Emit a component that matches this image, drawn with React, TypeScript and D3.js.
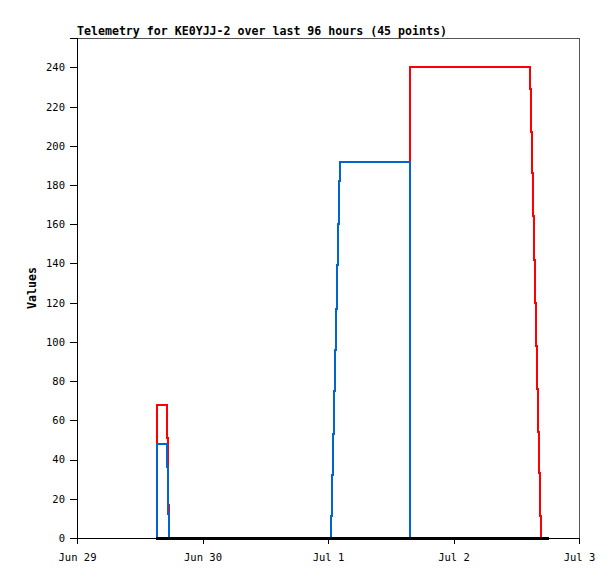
import { useEffect, useRef } from 'react';
import * as d3 from 'd3';

// hours since Jun 29 00:00 (UTC) for each telemetry packet
const hours = [
  15.1, 15.36, 17.15, 17.4, 17.59,
  48.52, 48.71, 48.9, 49.09, 49.28, 49.47, 49.66, 49.86, 50.05, 50.24,
  63.68,
  86.63, 86.82, 87.01, 87.26, 87.45, 87.64, 87.84, 88.03, 88.22, 88.41, 88.6, 88.79,
  90.26,
];

const redValues = [
  0, 68, 51, 17, 0,
  0, 0, 0, 0, 0, 0, 0, 0, 0, 0,
  240,
  229, 207, 186, 164, 142, 120, 98, 76, 54, 33, 11, 0,
  0,
];

const blueValues = [
  0, 48, 36, 12, 0,
  11, 32, 53, 75, 96, 117, 139, 160, 182, 192,
  0,
  0, 0, 0, 0, 0, 0, 0, 0, 0, 0, 0, 0,
  0,
];

const blackValues = [
  0, 0, 0, 0, 0,
  0, 0, 0, 0, 0, 0, 0, 0, 0, 0,
  0,
  0, 0, 0, 0, 0, 0, 0, 0, 0, 0, 0, 0,
  0,
];

const dayLabels = ['Jun 29', 'Jun 30', 'Jul 1', 'Jul 2', 'Jul 3'];
const yTicks = [0, 20, 40, 60, 80, 100, 120, 140, 160, 180, 200, 220, 240];

const startDay = new Date(Date.UTC(2024, 5, 29));
const endDay = new Date(Date.UTC(2024, 6, 3));

export default function App() {
  const svgRef = useRef<SVGSVGElement>(null);

  useEffect(() => {
    document.body.style.margin = '0';
    if (!svgRef.current) return;

    const svg = d3.select(svgRef.current);
    svg.selectAll('*').remove();

    const width = 615;
    const height = 579;
    const margin = { top: 38, right: 36, bottom: 41, left: 77 };
    const font = '"DejaVu Sans Mono", "Liberation Mono", monospace';

    const x = d3.scaleUtc()
      .domain([startDay, endDay])
      .range([margin.left, width - margin.right]);

    const y = d3.scaleLinear()
      .domain([0, 255])
      .range([height - margin.bottom, margin.top]);

    const times = hours.map(h => new Date(startDay.getTime() + h * 3600 * 1000));

    svg.append('rect')
      .attr('width', width)
      .attr('height', height)
      .attr('fill', '#fff');

    // frame (top/right)
    svg.append('rect')
      .attr('x', margin.left)
      .attr('y', margin.top)
      .attr('width', width - margin.left - margin.right)
      .attr('height', height - margin.top - margin.bottom)
      .attr('fill', 'none')
      .attr('stroke', '#555')
      .attr('stroke-width', 1)
      .attr('shape-rendering', 'crispEdges');

    const line = d3.line<number>()
      .x((_, i) => x(times[i]))
      .y(d => y(d))
      .curve(d3.curveStepAfter);

    const series = [
      { values: redValues, color: '#ff0000', w: 2 },
      { values: blueValues, color: '#0066cc', w: 2 },
      { values: blackValues, color: '#000000', w: 3 },
    ];

    series.forEach(s => {
      svg.append('path')
        .datum(s.values)
        .attr('fill', 'none')
        .attr('stroke', s.color)
        .attr('stroke-width', s.w)
        .attr('shape-rendering', 'crispEdges')
        .attr('d', line);
    });

    // y axis
    const yAxis = svg.append('g')
      .attr('transform', `translate(${margin.left},0)`)
      .call(d3.axisLeft(y).tickValues(yTicks).tickSize(7).tickPadding(5));
    yAxis.select('.domain').attr('stroke', '#000').attr('shape-rendering', 'crispEdges');
    yAxis.selectAll('.tick line').attr('stroke', '#000').attr('shape-rendering', 'crispEdges');
    yAxis.selectAll('.tick text')
      .attr('font-family', font)
      .attr('font-size', 10.5)
      .attr('fill', '#000');

    // x axis
    const days = d3.utcDay.range(startDay, new Date(endDay.getTime() + 1));
    const xAxis = svg.append('g')
      .attr('transform', `translate(0,${height - margin.bottom})`)
      .call(
        d3.axisBottom(x)
          .tickValues(days)
          .tickSize(6)
          .tickPadding(10)
          .tickFormat((_, i) => dayLabels[i])
      );
    xAxis.select('.domain').attr('stroke', '#000').attr('shape-rendering', 'crispEdges');
    xAxis.selectAll('.tick line').attr('stroke', '#000').attr('shape-rendering', 'crispEdges');
    xAxis.selectAll('.tick text')
      .attr('font-family', font)
      .attr('font-size', 10.5)
      .attr('fill', '#000');

    // title
    svg.append('text')
      .attr('x', margin.left)
      .attr('y', 35)
      .attr('font-family', font)
      .attr('font-size', 11.6)
      .attr('font-weight', 'bold')
      .attr('fill', '#000')
      .text('Telemetry for KE0YJJ-2 over last 96 hours (45 points)');

    // y label
    svg.append('text')
      .attr('transform', `translate(36, ${(margin.top + height - margin.bottom) / 2}) rotate(-90)`)
      .attr('text-anchor', 'middle')
      .attr('font-family', font)
      .attr('font-size', 11.6)
      .attr('font-weight', 'bold')
      .attr('fill', '#000')
      .text('Values');
  }, []);

  return (
    <svg
      ref={svgRef}
      width={615}
      height={579}
      style={{ display: 'block' }}
    />
  );
}
